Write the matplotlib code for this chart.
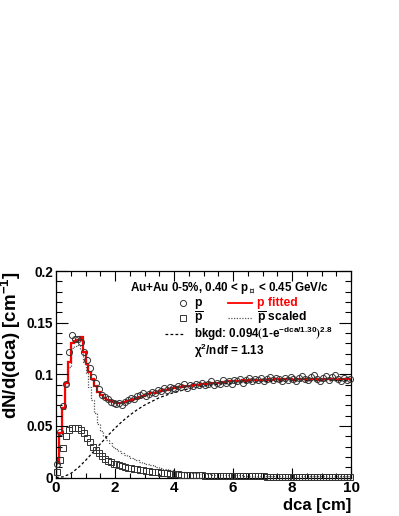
import numpy as np
import matplotlib
matplotlib.use("Agg")
import matplotlib.pyplot as plt
from matplotlib.ticker import MultipleLocator

# ---------------- data ----------------
dca_edges = np.round(np.arange(0.0, 10.0001, 0.1), 3)
dca_centers = 0.5 * (dca_edges[:-1] + dca_edges[1:])

p_data = [
    0.013, 0.044, 0.069, 0.091, 0.122, 0.138, 0.134, 0.134, 0.131, 0.122,
    0.114, 0.106, 0.097, 0.092, 0.086, 0.080, 0.078, 0.076, 0.073, 0.072,
    0.071, 0.072, 0.070, 0.073, 0.075, 0.077, 0.076, 0.079, 0.080, 0.082,
    0.079, 0.081, 0.083, 0.082, 0.085, 0.084, 0.087, 0.085, 0.088, 0.087,
    0.086, 0.089, 0.088, 0.091, 0.087, 0.090, 0.089, 0.091, 0.090, 0.092,
    0.090, 0.091, 0.093, 0.090, 0.092, 0.091, 0.094, 0.092, 0.093, 0.091,
    0.094, 0.093, 0.095, 0.092, 0.094, 0.096, 0.093, 0.095, 0.094, 0.096,
    0.093, 0.095, 0.097, 0.094, 0.096, 0.095, 0.093, 0.096, 0.094, 0.097,
    0.095, 0.093, 0.096, 0.098, 0.095, 0.094, 0.097, 0.099, 0.095, 0.093,
    0.096, 0.098, 0.094, 0.097, 0.099, 0.095, 0.093, 0.096, 0.094, 0.095,
]

pbar_data = [
    0.005, 0.017, 0.029, 0.040, 0.046, 0.048, 0.048, 0.048, 0.046, 0.043,
    0.038, 0.034, 0.030, 0.027, 0.024, 0.021, 0.018, 0.016, 0.015, 0.0135,
    0.013, 0.012, 0.011, 0.010, 0.0095, 0.009, 0.0085, 0.008, 0.0075, 0.007,
    0.0065, 0.006, 0.0057, 0.0053, 0.005, 0.0047, 0.0044, 0.0041, 0.0038, 0.0036,
    0.0033, 0.0031, 0.0029, 0.0027, 0.0026, 0.0024, 0.0023, 0.0022, 0.0021, 0.0020,
    0.0019, 0.0018, 0.0017, 0.0017, 0.0016, 0.0015, 0.0015, 0.0014, 0.0014, 0.0013,
    0.0013, 0.0012, 0.0012, 0.0012, 0.0011, 0.0011, 0.0011, 0.0010, 0.0010, 0.0010,
    0.0010, 0.0009, 0.0009, 0.0009, 0.0009, 0.0008, 0.0008, 0.0008, 0.0008, 0.0008,
    0.0007, 0.0008, 0.0007, 0.0007, 0.0007, 0.0008, 0.0007, 0.0007, 0.0007, 0.0006,
    0.0007, 0.0006, 0.0007, 0.0006, 0.0006, 0.0007, 0.0006, 0.0006, 0.0006, 0.0006,
]

p_fitted = [
    0.0145, 0.043, 0.067, 0.092, 0.112, 0.130, 0.132, 0.1335, 0.136, 0.122,
    0.110, 0.102, 0.095, 0.089, 0.083, 0.080, 0.077, 0.075, 0.074, 0.073,
    0.0725, 0.072, 0.0725, 0.073, 0.0745, 0.075, 0.0765, 0.077, 0.078, 0.079,
    0.080, 0.0805, 0.0815, 0.082, 0.083, 0.0835, 0.0845, 0.085, 0.086, 0.0865,
    0.087, 0.0875, 0.088, 0.0885, 0.0885, 0.089, 0.0895, 0.090, 0.090, 0.0905,
    0.091, 0.0908, 0.0915, 0.0915, 0.092, 0.092, 0.0925, 0.0922, 0.093, 0.093,
    0.0932, 0.0935, 0.0935, 0.094, 0.0938, 0.094, 0.0942, 0.0945, 0.0942, 0.0945,
    0.0948, 0.0945, 0.095, 0.0948, 0.095, 0.0952, 0.0948, 0.095, 0.0953, 0.095,
    0.0948, 0.0952, 0.095, 0.0955, 0.095, 0.0948, 0.0952, 0.0955, 0.095, 0.0948,
    0.0952, 0.095, 0.0955, 0.0952, 0.095, 0.0948, 0.0952, 0.095, 0.0953, 0.095,
]

pbar_scaled = [
    0.013, 0.042, 0.066, 0.089, 0.107, 0.125, 0.127, 0.128, 0.124, 0.112,
    0.101, 0.088, 0.075, 0.062, 0.052, 0.045, 0.040, 0.036, 0.033, 0.030,
    0.028, 0.026, 0.024, 0.022, 0.021, 0.019, 0.018, 0.017, 0.015, 0.014,
    0.0135, 0.013, 0.012, 0.011, 0.010, 0.009, 0.0085, 0.008, 0.0075, 0.007,
    0.0062, 0.0058, 0.0055, 0.0050, 0.0048, 0.0047, 0.0044, 0.0040, 0.0038, 0.0036,
    0.0034, 0.0032, 0.0030, 0.0029, 0.0028, 0.0026, 0.0025, 0.0024, 0.0023, 0.0022,
    0.0021, 0.0020, 0.0020, 0.0019, 0.0019, 0.0018, 0.0018, 0.0017, 0.0017, 0.0016,
    0.0016, 0.0016, 0.0015, 0.0015, 0.0015, 0.0015, 0.0014, 0.0014, 0.0014, 0.0014,
    0.0013, 0.0014, 0.0013, 0.0013, 0.0013, 0.0013, 0.0012, 0.0013, 0.0012, 0.0012,
    0.0012, 0.0012, 0.0012, 0.0011, 0.0012, 0.0011, 0.0011, 0.0012, 0.0011, 0.0011,
]

bkgd_x = [0.0, 0.25, 0.5, 0.75, 1.0, 1.25, 1.5, 1.75, 2.0, 2.25, 2.5, 2.75, 3.0,
          3.5, 4.0, 4.5, 5.0, 5.5, 6.0, 6.5, 7.0, 7.5, 8.0, 8.5, 9.0, 9.5, 10.0]
bkgd_y = [0.0, 0.0007, 0.0039, 0.0094, 0.0165, 0.0244, 0.0325, 0.0404, 0.0478,
          0.0545, 0.0604, 0.0656, 0.0701, 0.0773, 0.0824, 0.0860, 0.0885, 0.0902,
          0.0914, 0.0922, 0.0928, 0.0932, 0.0934, 0.0936, 0.0937, 0.0938, 0.0939]

x_ticks = [0, 2, 4, 6, 8, 10]
y_ticks = [0, 0.05, 0.1, 0.15, 0.2]
y_tick_labels = ["0", "0.05", "0.1", "0.15", "0.2"]

# ---------------- style ----------------
FONT = "Liberation Sans"
plt.rcParams["font.family"] = [FONT, "DejaVu Sans"]
plt.rcParams["font.weight"] = "bold"
plt.rcParams["mathtext.fontset"] = "custom"
plt.rcParams["mathtext.rm"] = "Liberation Sans:bold"
plt.rcParams["mathtext.it"] = "Liberation Sans:bold"
plt.rcParams["mathtext.bf"] = "Liberation Sans:bold"
plt.rcParams["mathtext.sf"] = "DejaVu Sans:bold"
plt.rcParams["mathtext.default"] = "rm"
plt.rcParams["mathtext.fallback"] = "stixsans"

fig = plt.figure(figsize=(3.99, 5.16), dpi=100)
ax = fig.add_axes([0.1404, 0.0746, 0.7393, 0.4002])

GRAY = "#555555"
# histograms
ax.stairs(pbar_scaled, dca_edges, color=GRAY, linestyle=(0, (1, 1.2)), lw=0.9,
          baseline=None)
ax.stairs(p_fitted, dca_edges, color="#ff0000", lw=1.6, baseline=None)
ax.vlines(dca_edges[0], 0, p_fitted[0], color="#ff0000", lw=1.6)

# background
ax.plot(bkgd_x, bkgd_y, color="black", lw=0.9, linestyle=(0, (2.2, 1.8)))

# markers
ax.plot(dca_centers, p_data, linestyle="none", marker="o", ms=4.4,
        mfc="none", mec="#333333", mew=0.7, clip_on=False, zorder=4)
ax.plot(dca_centers, pbar_data, linestyle="none", marker="s", ms=4.0,
        mfc="none", mec="#333333", mew=0.7, clip_on=False, zorder=4)

ax.set_xlim(0, 10)
ax.set_ylim(0, 0.2)
ax.set_xticks(x_ticks)
ax.set_xticklabels([str(t) for t in x_ticks])
ax.set_yticks(y_ticks)
ax.set_yticklabels(y_tick_labels)
ax.xaxis.set_minor_locator(MultipleLocator(0.5))
ax.yaxis.set_minor_locator(MultipleLocator(0.01))
ax.tick_params(which="both", direction="in", top=True, right=True, width=0.8)
ax.tick_params(axis="x", which="major", length=7, labelsize=11, pad=2.5)
ax.tick_params(axis="x", which="minor", length=3.5)
ax.tick_params(axis="y", which="major", length=8.5, labelsize=9.8, pad=2)
ax.tick_params(axis="y", which="minor", length=4.2)
for lab in ax.get_xticklabels() + ax.get_yticklabels():
    lab.set_fontweight("bold")
for s in ax.spines.values():
    s.set_linewidth(0.9)

ax.set_xlabel("dca [cm]", fontsize=12, fontweight="bold", loc="right", labelpad=2)
ax.set_ylabel(r"dN/d(dca) [cm$^{\mathbf{-1}}$]", fontsize=13.5, fontweight="bold",
              loc="top", labelpad=3)

# legend / annotation
tr = ax.transAxes
fs = 8.4
ax.text(0.251, 0.918, r"Au+Au 0-5%, 0.40 < p$_{\mathsf{\perp}}$ < 0.45 GeV/c",
        transform=tr, fontsize=fs, fontweight="bold", va="center", ha="left")
ax.plot([0.431], [0.845], transform=tr, marker="o", ms=4.4, mfc="none",
        mec="#333333", mew=0.7, linestyle="none", clip_on=False)
ax.text(0.468, 0.845, "p", transform=tr, fontsize=fs + 0.3, fontweight="bold",
        va="center", ha="left")
ax.plot([0.583, 0.664], [0.845, 0.845], transform=tr, color="#ff0000", lw=1.3)
ax.text(0.681, 0.845, "p fitted", transform=tr, fontsize=fs + 0.3, fontweight="bold",
        va="center", ha="left", color="#ff0000")
ax.plot([0.431], [0.772], transform=tr, marker="s", ms=4.0, mfc="none",
        mec="#333333", mew=0.7, linestyle="none", clip_on=False)
ax.text(0.468, 0.772, r"$\overline{\mathrm{p}}$", transform=tr, fontsize=fs + 0.3,
        va="center", ha="left")
ax.plot([0.583, 0.664], [0.772, 0.772], transform=tr, color=GRAY, lw=0.9,
        linestyle=(0, (1, 1.2)))
ax.text(0.681, 0.772, r"$\overline{\mathrm{p}}$ scaled", transform=tr,
        fontsize=fs + 0.3, va="center", ha="left")
ax.plot([0.369, 0.437], [0.693, 0.693], transform=tr, color="black", lw=0.9,
        linestyle=(0, (2.2, 1.8)))
ax.text(0.468, 0.693, r"bkgd: 0.094$\left(1\text{-}e^{-dca/1.30}\right)^{2.8}$",
        transform=tr, fontsize=fs, va="center", ha="left")
ax.text(0.468, 0.612, r"$\chi^{2}$/ndf = 1.13", transform=tr, fontsize=fs,
        va="center", ha="left")

fig.savefig("out.png", dpi=100, facecolor="white")
